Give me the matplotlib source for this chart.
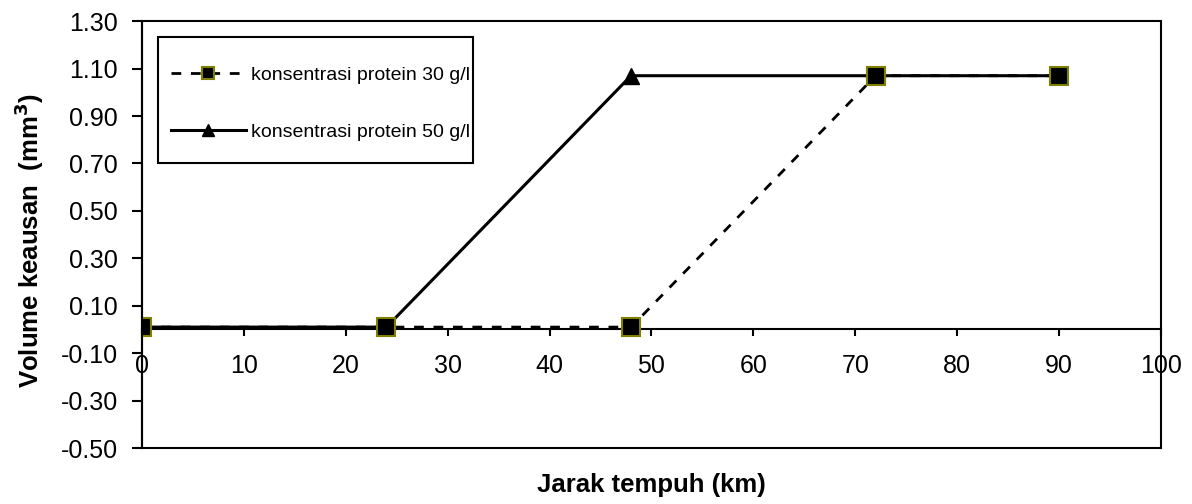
from matplotlib import pyplot as plt
from matplotlib.patches import Rectangle

plt.rcParams['font.family'] = ['Liberation Sans', 'DejaVu Sans']

# data
jarak = [0, 24, 48, 72, 90]
protein30 = [0.01, 0.01, 0.01, 1.07, 1.07]
protein50 = [0.01, 0.01, 1.07, 1.07, 1.07]
yticks = [-0.50, -0.30, -0.10, 0.10, 0.30, 0.50, 0.70, 0.90, 1.10, 1.30]
xticks = [0, 10, 20, 30, 40, 50, 60, 70, 80, 90, 100]

fig = plt.figure(figsize=(11.92, 5.04), dpi=100)
ax = fig.add_axes([0.119, 0.111, 0.855, 0.847])

ax.plot(jarak, protein30, color='black', lw=2, dashes=(3.5, 3.5), marker='s', ms=12.5,
        mfc='black', mec='#808000', mew=1.5, label='konsentrasi protein 30 g/l', zorder=3)
ax.plot(jarak, protein50, color='black', lw=2.2, marker='^', ms=12,
        mfc='black', mec='black', label='konsentrasi protein 50 g/l', zorder=2)

# x axis sits at y = 0
ax.spines['bottom'].set_position(('data', 0))
ax.spines['bottom'].set_linewidth(1.5)
ax.spines['left'].set_linewidth(1.5)
ax.spines['top'].set_visible(False)
ax.spines['right'].set_visible(False)
ax.add_patch(Rectangle((0, 0), 1, 1, transform=ax.transAxes, fill=False,
                       lw=1.5, ec='black', clip_on=False, zorder=5))

ax.set_xlim(0, 100)
ax.set_ylim(-0.5, 1.3)
ax.set_yticks(yticks)
ax.set_yticklabels(['%.2f' % v for v in yticks])
ax.set_xticks(xticks)
ax.set_xticklabels([str(v) for v in xticks])
ax.tick_params(axis='x', direction='out', length=5, width=1.5, pad=13, labelsize=18)
ax.tick_params(axis='y', direction='out', length=7, width=1.5, pad=10, labelsize=18)

ax.set_xlabel('Jarak tempuh (km)', fontsize=18.5, fontweight='bold')
ax.xaxis.set_label_coords(0.5, -0.087)
ax.xaxis.label.set_va('center')
ax.set_ylabel('Volume keausan  (mm$^\\mathbf{3}$)', fontsize=18.5, fontweight='bold')
ax.yaxis.set_label_coords(-0.11, 0.485)
ax.yaxis.label.set_va('center')

# legend box (frame drawn separately so the padding can differ)
ax.add_patch(Rectangle((0.0157, 0.667), 0.309, 0.2955, transform=ax.transAxes,
                       fill=False, lw=1.5, ec='black', zorder=6))
leg = ax.legend(loc='center', bbox_to_anchor=(0.1752, 0.807), borderaxespad=0,
                fontsize=14, handlelength=3.9, labelspacing=2.0, borderpad=0,
                handletextpad=0.25, frameon=False, markerscale=0.7)

plt.savefig('out.png', dpi=100)
